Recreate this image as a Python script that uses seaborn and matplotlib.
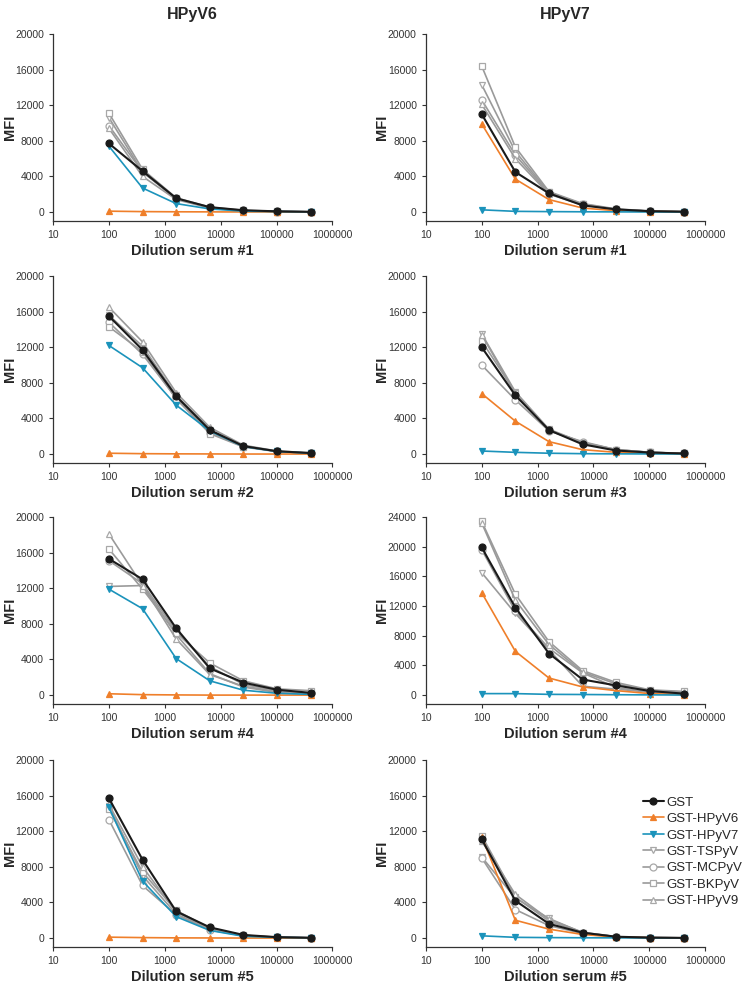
import matplotlib
matplotlib.use("Agg")
import matplotlib.pyplot as plt
import matplotlib.ticker as mticker
import seaborn as sns
import numpy as np

sns.set_style("ticks")
plt.rcParams['font.family'] = ['Liberation Sans', 'DejaVu Sans']

dilutions = [100, 400, 1600, 6400, 25600, 102400, 409600]
series = ["GST", "GST-HPyV6", "GST-HPyV7", "GST-TSPyV", "GST-MCPyV", "GST-BKPyV", "GST-HPyV9"]
col_titles = ["HPyV6", "HPyV7"]
xlabels = [["Dilution serum #1", "Dilution serum #1"],
           ["Dilution serum #2", "Dilution serum #3"],
           ["Dilution serum #4", "Dilution serum #4"],
           ["Dilution serum #5", "Dilution serum #5"]]
ymax = [[20000, 20000], [20000, 20000], [20000, 24000], [20000, 20000]]

# MFI values, order as in `series`
hpyv6_s1 = [[7700, 4600, 1550, 550, 200, 80, 30],
            [100, 50, 30, 20, 10, 10, 10],
            [7400, 2700, 950, 350, 100, 50, 20],
            [10600, 4500, 1500, 500, 150, 60, 20],
            [9700, 4500, 1500, 500, 150, 60, 20],
            [11100, 4800, 1600, 550, 200, 80, 30],
            [9400, 4000, 1400, 450, 150, 50, 20]]
hpyv7_s1 = [[11000, 4500, 2100, 750, 300, 100, 40],
            [9900, 3700, 1400, 450, 150, 60, 20],
            [250, 80, 50, 30, 20, 10, 10],
            [14300, 6800, 2200, 900, 300, 100, 40],
            [12600, 6400, 2100, 850, 300, 100, 40],
            [16400, 7300, 2300, 950, 350, 120, 40],
            [12100, 6000, 2000, 800, 280, 100, 40]]
hpyv6_s2 = [[15500, 11700, 6500, 2700, 900, 320, 120],
            [100, 50, 30, 20, 10, 10, 10],
            [12200, 9700, 5500, 2600, 850, 300, 100],
            [15600, 12100, 6600, 2700, 900, 300, 100],
            [14800, 11200, 6300, 2400, 850, 300, 100],
            [14300, 11500, 6200, 2300, 800, 280, 100],
            [16500, 12600, 6900, 3000, 1000, 350, 150]]
hpyv7_s3 = [[12000, 6600, 2700, 1100, 400, 180, 70],
            [6800, 3700, 1400, 500, 200, 80, 30],
            [350, 200, 100, 50, 30, 20, 10],
            [13500, 7000, 2800, 1300, 500, 200, 80],
            [10000, 6100, 2600, 1400, 500, 200, 80],
            [12700, 6900, 2700, 1200, 450, 200, 80],
            [13400, 6800, 2700, 1300, 500, 200, 80]]
hpyv6_s4 = [[15300, 13000, 7500, 3000, 1400, 600, 250],
            [150, 50, 20, 0, 0, 0, 0],
            [11900, 9700, 4100, 1600, 550, 200, 80],
            [12200, 12300, 6800, 2400, 900, 300, 100],
            [15100, 12500, 7200, 3200, 1200, 500, 200],
            [16400, 11900, 7000, 3600, 1600, 700, 500],
            [18100, 12300, 6300, 2300, 1000, 400, 200]]
hpyv7_s4 = [[19900, 11800, 5600, 2100, 1300, 550, 200],
            [13800, 5900, 2300, 1100, 600, 200, 50],
            [200, 200, 100, 80, 50, 30, 10],
            [16500, 11000, 6100, 1200, 800, 400, 200],
            [19600, 11300, 6300, 3000, 1000, 400, 200],
            [23400, 13600, 7200, 3300, 1700, 700, 500],
            [23200, 12800, 6800, 3100, 1500, 650, 400]]
hpyv6_s5 = [[15700, 8800, 3000, 1200, 350, 100, 30],
            [100, 50, 20, 10, 0, 0, 0],
            [14700, 6400, 2400, 850, 200, 80, 20],
            [14800, 7000, 2700, 1000, 250, 80, 20],
            [13300, 5900, 2600, 900, 250, 80, 20],
            [14500, 7400, 3100, 1100, 300, 100, 30],
            [15000, 8000, 2900, 1100, 300, 100, 30]]
hpyv7_s5 = [[11100, 4200, 1600, 600, 150, 50, 20],
            [11400, 2000, 1000, 400, 100, 30, 10],
            [250, 80, 50, 30, 20, 10, 10],
            [9100, 4500, 2200, 600, 150, 50, 20],
            [9000, 3200, 1400, 500, 120, 40, 20],
            [11500, 4600, 1900, 600, 150, 50, 20],
            [10900, 4900, 2100, 650, 150, 50, 20]]

panels = [[hpyv6_s1, hpyv7_s1], [hpyv6_s2, hpyv7_s3],
          [hpyv6_s4, hpyv7_s4], [hpyv6_s5, hpyv7_s5]]

grey = "#9a9a9a"
styles = {
    "GST":       dict(color="#1a1a1a", marker="o", mfc="#1a1a1a", mec="#1a1a1a", lw=1.5, z=6),
    "GST-HPyV6": dict(color="#ef7f2a", marker="^", mfc="#ef7f2a", mec="#ef7f2a", lw=1.2, z=5),
    "GST-HPyV7": dict(color="#1b93bb", marker="v", mfc="#1b93bb", mec="#1b93bb", lw=1.2, z=5),
    "GST-TSPyV": dict(color=grey, marker="v", mfc="white", mec="#a8a8a8", lw=1.2, z=3),
    "GST-MCPyV": dict(color=grey, marker="o", mfc="white", mec="#a8a8a8", lw=1.2, z=3),
    "GST-BKPyV": dict(color=grey, marker="s", mfc="white", mec="#a8a8a8", lw=1.2, z=3),
    "GST-HPyV9": dict(color=grey, marker="^", mfc="white", mec="#a8a8a8", lw=1.2, z=3),
}

fig = plt.figure(figsize=(7.51, 9.86), dpi=100)
lefts = [0.0706, 0.567]
bottoms = [0.7759, 0.5304, 0.286, 0.0396]
w, h = 0.372, 0.1897

for r in range(4):
    for c in range(2):
        ax = fig.add_axes([lefts[c], bottoms[r], w, h])
        data = panels[r][c]
        for name, vals in zip(series, data):
            st = styles[name]
            sns.lineplot(x=dilutions, y=vals, ax=ax, color=st["color"], lw=st["lw"],
                         marker=st["marker"], markersize=5, markerfacecolor=st["mfc"],
                         markeredgecolor=st["mec"], markeredgewidth=0.9, zorder=st["z"],
                         label=name, legend=False)
        ax.set_xscale("log")
        ax.set_xlim(10, 1e6)
        top = ymax[r][c]
        ax.set_ylim(-top * 0.05, top)
        ax.set_yticks(np.arange(0, top + 1, 4000))
        ax.xaxis.set_major_locator(mticker.FixedLocator([10, 100, 1000, 10000, 100000, 1000000]))
        ax.xaxis.set_minor_locator(mticker.NullLocator())
        ax.xaxis.set_major_formatter(mticker.FuncFormatter(lambda v, p: f"{int(round(v))}"))
        ax.yaxis.set_major_formatter(mticker.FuncFormatter(lambda v, p: f"{int(v)}"))
        ax.tick_params(labelsize=7.5, colors="#333333", length=3, width=0.8)
        for s in ["left", "bottom"]:
            ax.spines[s].set_color("#333333")
            ax.spines[s].set_linewidth(0.9)
        sns.despine(ax=ax)
        ax.set_xlabel(xlabels[r][c], fontsize=10.5, fontweight="bold", labelpad=3)
        ax.set_ylabel("MFI", fontsize=10.5, fontweight="bold")
        ax.yaxis.set_label_coords(-0.13, 0.5)
        if r == 0:
            ax.set_title(col_titles[c], fontsize=11.5, fontweight="bold", pad=11)
        if r == 3 and c == 1:
            ax.legend(loc="upper left", bbox_to_anchor=(0.847, 0.199), bbox_transform=fig.transFigure,
                      frameon=False, fontsize=9.5, handlelength=1.6, handletextpad=0.2,
                      labelspacing=0.32, borderpad=0)

fig.savefig("out.png", dpi=100)
